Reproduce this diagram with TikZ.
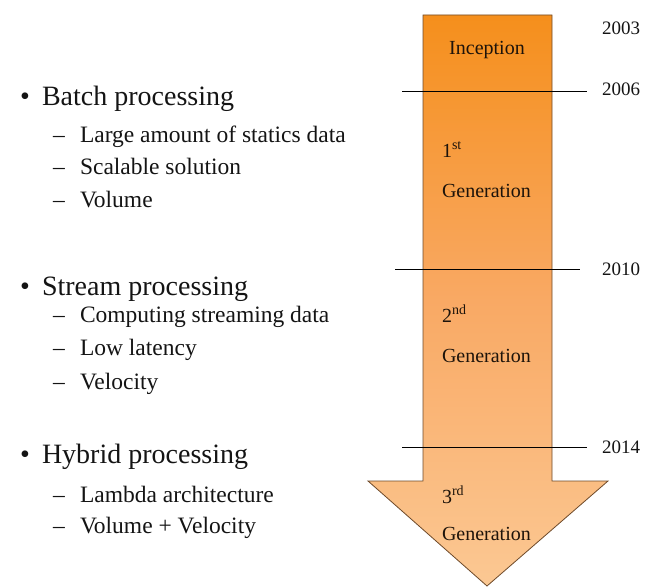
\documentclass[tikz,border=0pt]{standalone}
\usepackage{fontspec}
\setmainfont{Liberation Serif}
\begin{document}
\begin{tikzpicture}[x=1pt,y=-1pt,
  every node/.style={inner sep=0pt,outer sep=0pt,text=black!92},
  mainitem/.style={anchor=base west,font=\fontsize{28}{32}\selectfont},
  subitem/.style={anchor=base west,font=\fontsize{23.5}{28}\selectfont},
  bul/.style={anchor=base,font=\fontsize{28}{32}\selectfont},
  dsh/.style={anchor=base,font=\fontsize{23.5}{28}\selectfont},
  gen/.style={anchor=base west,font=\fontsize{20}{24}\selectfont,text=black!85!brown},
  year/.style={anchor=base west,font=\fontsize{19}{22}\selectfont},
  mark line/.style={draw=black,line width=0.9pt}]
\useasboundingbox (0,0) rectangle (647,586);
\definecolor{arrtop}{HTML}{F58F1C}
\definecolor{arrmid}{HTML}{F9A964}
\definecolor{arrbot}{HTML}{FBC893}
\definecolor{arredge}{HTML}{6E4A2A}

% the timeline arrow
\path[draw=arredge,line width=0.8pt,top color=arrtop,bottom color=arrbot,middle color=arrmid]
  (423,15) -- (552,15) -- (552,481) -- (608,481) -- (487,586) -- (368,481) -- (423,481) -- cycle;

% stages inside the arrow
\node[anchor=base,font=\fontsize{20}{24}\selectfont,text=black!85!brown] (inc) at (487,55) {Inception};
\node[gen] (g1a) at (442,157) {1\textsuperscript{st}};
\node[gen] (g1b) at (442,197) {Generation};
\node[gen] (g2a) at (442,322) {2\textsuperscript{nd}};
\node[gen] (g2b) at (442,362) {Generation};
\node[gen] (g3a) at (442,503) {3\textsuperscript{rd}};
\node[gen] (g3b) at (442,540) {Generation};

% year markers
\coordinate (l06a) at (402,91); \coordinate (l06b) at (587,91);
\coordinate (l10a) at (395,269); \coordinate (l10b) at (580,269);
\coordinate (l14a) at (402,447); \coordinate (l14b) at (587,447);
\draw[mark line] (l06a) -- (l06b);
\draw[mark line] (l10a) -- (l10b);
\draw[mark line] (l14a) -- (l14b);
\node[year] (y03) at (602,35) {2003};
\node[year] (y06) at (602,95) {2006};
\node[year] (y10) at (602,275) {2010};
\node[year] (y14) at (602,453) {2014};

% processing paradigms
\node[bul] (b1) at (25,105) {•};
\node[mainitem] (batch) at (42,105) {Batch processing};
\node[dsh] (d11) at (59,142) {–};
\node[subitem] (s11) at (80,142) {Large amount of statics data};
\node[dsh] (d12) at (59,174) {–};
\node[subitem] (s12) at (80,174) {Scalable solution};
\node[dsh] (d13) at (59,207) {–};
\node[subitem] (s13) at (80,207) {Volume};

\node[bul] (b2) at (25,295) {•};
\node[mainitem] (stream) at (42,295) {Stream processing};
\node[dsh] (d21) at (59,322) {–};
\node[subitem] (s21) at (80,322) {Computing streaming data};
\node[dsh] (d22) at (59,355) {–};
\node[subitem] (s22) at (80,355) {Low latency};
\node[dsh] (d23) at (59,389) {–};
\node[subitem] (s23) at (80,389) {Velocity};

\node[bul] (b3) at (25,463) {•};
\node[mainitem] (hybrid) at (42,463) {Hybrid processing};
\node[dsh] (d31) at (59,502) {–};
\node[subitem] (s31) at (80,502) {Lambda architecture};
\node[dsh] (d32) at (59,533) {–};
\node[subitem] (s32) at (80,533) {Volume + Velocity};
\end{tikzpicture}
\end{document}
